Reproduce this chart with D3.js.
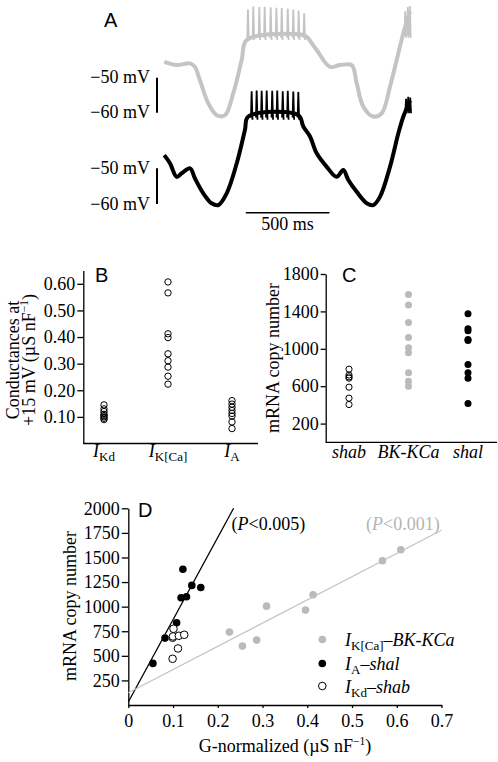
<!DOCTYPE html>
<html>
<head>
<meta charset="utf-8">
<script src="https://cdn.jsdelivr.net/npm/d3@7"></script>
<style>
  body { margin: 0; background: #fff; }
  text { font-family: "Liberation Serif", "Times New Roman", serif; font-size: 18px; fill: #000; }
  text.panel { font-family: "Liberation Sans", Arial, sans-serif; font-size: 20px; }
  .axis path, .axis line { stroke: #000; stroke-width: 1.3; }
</style>
</head>
<body>
<div id="chart"></div>
<script>
// ---- panel A: membrane potential, [time ms, mV]
var grayTrace = [[0,-45.5],[74,-46.4],[154,-45.9],[183,-46.9],[213,-50.7],[263,-57.3],[313,-60.7],[363,-60.7],
  [412,-54.5],[463,-44.9],[493,-39.2],[831,-37.8],[851,-38.3],[911,-42.1],[990,-46.9],[1050,-46.4],[1120,-46.4],
  [1150,-51.6],[1190,-58.3],[1249,-61.1],[1299,-60.2],[1349,-52.6],[1399,-43.0],[1429,-37.3],[1469,-31]]
var blackTrace = [[0,-46.3],[34,-48.6],[74,-52.4],[104,-51.4],[154,-50.0],[183,-52.8],[233,-57.0],[283,-59.8],
  [323,-60.3],[373,-57.0],[433,-48.6],[482,-39.3],[502,-35.5],[801,-35.1],[831,-38.3],[871,-41.1],[911,-45.8],
  [971,-49.6],[1030,-52.4],[1070,-50.5],[1100,-53.3],[1150,-56.6],[1210,-59.8],[1249,-60.3],[1289,-58.0],
  [1349,-49.6],[1399,-40.2],[1429,-35.5],[1469,-31]]
// spikes: [time ms, peak mV]
var graySpikes = [[500,-30.5],[532,-29.6],[568,-29.8],[600,-29.7],[636,-29.9],[670,-30.0],[702,-30.1],
  [738,-30.2],[771,-30.5],[803,-30.8],[836,-31.5]]
var grayLateSpikes = [[1440,-31],[1455,-29.8],[1468,-29.5]]
var blackSpikes = [[522,-28.4],[552,-28.2],[582,-28.3],[612,-28.2],[645,-28.3],[675,-28.2],[708,-28.4],
  [738,-28.3],[771,-28.5],[801,-28.6]]
var blackLateSpikes = [[1445,-30.5],[1458,-30],[1470,-30.2]]
var spikeTroughs = { gray: -38.6, grayLate: -38, black: -35.8, blackLate: -34 }

// ---- panel B: conductances at +15 mV (uS/nF)
var condCats = ["IKd", "IKCa", "IA"]
var condIKd = [0.145, 0.13, 0.12, 0.11, 0.105, 0.10, 0.095, 0.09]
var condIKCa = [0.607, 0.566, 0.412, 0.398, 0.337, 0.311, 0.287, 0.253, 0.223]
var condIA = [0.161, 0.148, 0.136, 0.124, 0.113, 0.103, 0.081, 0.056]
var condTicks = [0.1, 0.2, 0.3, 0.4, 0.5, 0.6]

// ---- panel C: mRNA copy number
var geneCats = ["shab", "BK-KCa", "shal"]
var mrnaShab = [782, 720, 700, 686, 590, 472, 404]
var mrnaBK = [1582, 1468, 1282, 1121, 1011, 957, 743, 654, 600]
var mrnaShal = [1375, 1214, 1193, 1100, 1089, 832, 743, 686, 414]
var mrnaTicks = [200, 600, 1000, 1400, 1800]

// ---- panel D: G-normalized vs copy number, [G, copies]
var pairKCa = [[0.226,741],[0.255,599],[0.287,660],[0.309,1005],[0.396,965],[0.413,1121],[0.568,1466],[0.609,1578]]
var pairA = [[0.055,423],[0.082,680],[0.108,836],[0.118,1090],[0.122,1381],[0.130,1100],[0.142,1216],[0.162,1195]]
var pairKd = [[0.101,775],[0.099,684],[0.100,697],[0.113,704],[0.125,714],[0.111,575],[0.099,470]]
var fitA = [30, 8370]     // intercept, slope
var fitKCa = [125, 2360]
var dYTicks = [250, 500, 750, 1000, 1250, 1500, 1750, 2000]
var dXTicks = [0, 0.1, 0.2, 0.3, 0.4, 0.5, 0.6, 0.7]

var GRAY = '#c4c4c4', GRAYPT = '#bababa'

var svg = d3.select('#chart').append('svg')
  .attr('width', 498)
  .attr('height', 762)

// text with italic / sub / superscript parts
function rich(g, x, y, parts, anchor) {
  var t = g.append('text').attr('x', x).attr('y', y).attr('text-anchor', anchor || 'start')
  var shift = 0
  parts.forEach(function(p) {
    var target = p.sub ? 4 : (p.sup ? -7 : 0)
    var s = t.append('tspan').attr('dy', target - shift).text(p.t)
    shift = target
    if (p.it) s.attr('font-style', 'italic')
    if (p.sub) s.attr('font-size', '13px')
    if (p.sup) s.attr('font-size', '11.5px')
  })
  return t
}

function styleAxis(g) {
  g.attr('class', 'axis').attr('font-size', null).attr('font-family', null)
}

// ================= A
var gA = svg.append('g')
var tA = d3.scaleLinear().domain([0, 1480]).range([164.3, 411.9])
var yGray = d3.scaleLinear().domain([-60, -50]).range([112.7, 77.7])
var yBlack = d3.scaleLinear().domain([-60, -50]).range([204, 168.3])

function drawTrace(data, spikes, late, trough, troughLate, y, color) {
  var line = d3.line().x(function(d) { return tA(d[0]) }).y(function(d) { return y(d[1]) })
  var smooth = d3.line().curve(d3.curveCatmullRom.alpha(0.5))
    .x(function(d) { return tA(d[0]) }).y(function(d) { return y(d[1]) })
  gA.append('path').attr('d', smooth(data)).attr('fill', 'none').attr('stroke', color)
    .attr('stroke-width', 4).attr('stroke-linejoin', 'round')
  function spk(list, tr) {
    list.forEach(function(s) {
      gA.append('path')
        .attr('d', line([[s[0] - 4, tr], [s[0], s[1]], [s[0] + 5, tr - 0.6]]))
        .attr('fill', 'none').attr('stroke', color).attr('stroke-width', 1.8)
    })
  }
  spk(spikes, trough)
  spk(late, troughLate)
}
drawTrace(grayTrace, graySpikes, grayLateSpikes, spikeTroughs.gray, spikeTroughs.grayLate, yGray, GRAY)
drawTrace(blackTrace, blackSpikes, blackLateSpikes, spikeTroughs.black, spikeTroughs.blackLate, yBlack, '#000')

;[yGray, yBlack].forEach(function(y) {
  gA.append('line').attr('x1', 157).attr('x2', 157).attr('y1', y(-60)).attr('y2', y(-50))
    .attr('stroke', '#000').attr('stroke-width', 2)
  gA.append('text').attr('x', 150).attr('y', y(-50) + 5.5).attr('text-anchor', 'end').text('\u221250 mV')
  gA.append('text').attr('x', 150).attr('y', y(-60) + 5.5).attr('text-anchor', 'end').text('\u221260 mV')
})
gA.append('line').attr('x1', tA(487)).attr('x2', tA(987)).attr('y1', 212.7).attr('y2', 212.7)
  .attr('stroke', '#000').attr('stroke-width', 1.5)
gA.append('text').attr('x', (tA(487) + tA(987)) / 2).attr('y', 230).attr('text-anchor', 'middle').text('500 ms')
gA.append('text').attr('class', 'panel').attr('x', 104).attr('y', 27).text('A')

// ================= B
var gB = svg.append('g')
var xB = d3.scalePoint().domain(condCats).range([104, 232])
var yB = d3.scaleLinear().domain([0, 0.65]).range([443.5, 270.5])
gB.append('g').attr('transform', 'translate(83.3,0)')
  .call(d3.axisLeft(yB).tickValues(condTicks).tickFormat(d3.format('.2f')).tickSize(6).tickSizeOuter(0).tickPadding(2))
  .call(styleAxis)
gB.append('line').attr('x1', 83.3).attr('x2', 258).attr('y1', yB(0)).attr('y2', yB(0))
  .attr('stroke', '#000').attr('stroke-width', 1.3)
;[condIKd, condIKCa, condIA].forEach(function(vals, i) {
  gB.selectAll(null).data(vals).enter().append('circle')
    .attr('cx', xB(condCats[i])).attr('cy', function(d) { return yB(d) }).attr('r', 3.2)
    .attr('fill', 'none').attr('stroke', '#000').attr('stroke-width', 1)
})
rich(gB, xB('IKd'), 457, [{t: 'I', it: true}, {t: 'Kd', sub: true}], 'middle')
rich(gB, xB('IKCa'), 457, [{t: 'I', it: true}, {t: 'K[Ca]', sub: true}], 'middle')
rich(gB, xB('IA'), 457, [{t: 'I', it: true}, {t: 'A', sub: true}], 'middle')
var labB = gB.append('g').attr('transform', 'rotate(-90)')
rich(labB, -360, 19, [{t: 'Conductances at'}], 'middle')
rich(labB, -360, 35, [{t: '+15 mV (\u00b5S nF'}, {t: '\u22121', sup: true}, {t: ')'}], 'middle')
gB.append('text').attr('class', 'panel').attr('x', 95).attr('y', 282).text('B')

// ================= C
var gC = svg.append('g')
var xC = d3.scalePoint().domain(geneCats).range([349, 468])
var yC = d3.scaleLinear().domain([0, 1800]).range([442.3, 274])
gC.append('g').attr('transform', 'translate(325.7,0)')
  .call(d3.axisLeft(yC).tickValues(mrnaTicks).tickSize(5).tickSizeOuter(0).tickPadding(2).tickFormat(d3.format('d')))
  .call(styleAxis)
gC.append('line').attr('x1', 325.7).attr('x2', 497).attr('y1', yC(0)).attr('y2', yC(0))
  .attr('stroke', '#000').attr('stroke-width', 1.3)
var cStyles = [{fill: 'none', stroke: '#000'}, {fill: GRAYPT, stroke: 'none'}, {fill: '#000', stroke: 'none'}]
;[mrnaShab, mrnaBK, mrnaShal].forEach(function(vals, i) {
  gC.selectAll(null).data(vals).enter().append('circle')
    .attr('cx', xC(geneCats[i])).attr('cy', function(d) { return yC(d) })
    .attr('r', i === 0 ? 3.1 : 3.5)
    .attr('fill', cStyles[i].fill).attr('stroke', cStyles[i].stroke).attr('stroke-width', 1)
})
geneCats.forEach(function(c) {
  gC.append('text').attr('x', xC(c)).attr('y', 458).attr('text-anchor', 'middle')
    .attr('font-style', 'italic').text(c)
})
gC.append('text').attr('transform', 'translate(279,358) rotate(-90)').attr('text-anchor', 'middle')
  .text('mRNA copy number')
gC.append('text').attr('class', 'panel').attr('x', 342).attr('y', 282).text('C')

// ================= D
var gD = svg.append('g')
var xD = d3.scaleLinear().domain([0, 0.7]).range([128.3, 441.5])
var yD = d3.scaleLinear().domain([0, 2000]).range([705, 508.3])
gD.append('g').attr('transform', 'translate(128.3,0)')
  .call(d3.axisLeft(yD).tickValues(dYTicks).tickSize(6.5).tickSizeOuter(0).tickPadding(2).tickFormat(d3.format('d')))
  .call(styleAxis)
gD.append('g').attr('transform', 'translate(0,705)')
  .call(d3.axisBottom(xD).tickValues(dXTicks).tickSize(3).tickSizeOuter(0).tickPadding(6)
    .tickFormat(function(d) { return d === 0 ? '0' : d3.format('.1f')(d) }))
  .call(styleAxis)

// regression lines
var xTopA = (2000 - fitA[0]) / fitA[1]
gD.append('line').attr('x1', xD(0)).attr('y1', yD(fitA[0])).attr('x2', xD(xTopA)).attr('y2', yD(2000))
  .attr('stroke', '#000').attr('stroke-width', 1.3)
gD.append('line').attr('x1', xD(0)).attr('y1', yD(fitKCa[0])).attr('x2', xD(0.7)).attr('y2', yD(fitKCa[0] + fitKCa[1] * 0.7))
  .attr('stroke', GRAY).attr('stroke-width', 1.3)

function dots(data, fill, stroke) {
  gD.selectAll(null).data(data).enter().append('circle')
    .attr('cx', function(d) { return xD(d[0]) }).attr('cy', function(d) { return yD(d[1]) })
    .attr('r', 3.8).attr('fill', fill).attr('stroke', stroke).attr('stroke-width', 1)
}
dots(pairKCa, GRAYPT, 'none')
dots(pairA, '#000', 'none')
dots(pairKd, '#fff', '#000')

rich(gD, 231.5, 530, [{t: '('}, {t: 'P', it: true}, {t: '<0.005)'}])
rich(gD, 366, 530, [{t: '('}, {t: 'P', it: true}, {t: '<0.001)'}]).attr('fill', '#b4b4b4')
  .selectAll('tspan').attr('fill', '#b4b4b4')

// legend
var legRows = [
  {y: 639.5, fill: GRAYPT, stroke: 'none', parts: [{t: 'I', it: true}, {t: 'K[Ca]', sub: true}, {t: '\u2013'}, {t: 'BK-KCa', it: true}]},
  {y: 663.5, fill: '#000', stroke: 'none', parts: [{t: 'I', it: true}, {t: 'A', sub: true}, {t: '\u2013'}, {t: 'shal', it: true}]},
  {y: 686, fill: '#fff', stroke: '#000', parts: [{t: 'I', it: true}, {t: 'Kd', sub: true}, {t: '\u2013'}, {t: 'shab', it: true}]}
]
legRows.forEach(function(r) {
  gD.append('circle').attr('cx', 322.3).attr('cy', r.y).attr('r', 3.8)
    .attr('fill', r.fill).attr('stroke', r.stroke).attr('stroke-width', 1)
  rich(gD, 345, r.y + 6.5, r.parts)
})

rich(gD, 285, 752, [{t: 'G-normalized (\u00b5S nF'}, {t: '\u22121', sup: true}, {t: ')'}], 'middle')
gD.append('text').attr('transform', 'translate(76,606) rotate(-90)').attr('text-anchor', 'middle')
  .text('mRNA copy number')
gD.append('text').attr('class', 'panel').attr('x', 138).attr('y', 517).text('D')
</script>
</body>
</html>
